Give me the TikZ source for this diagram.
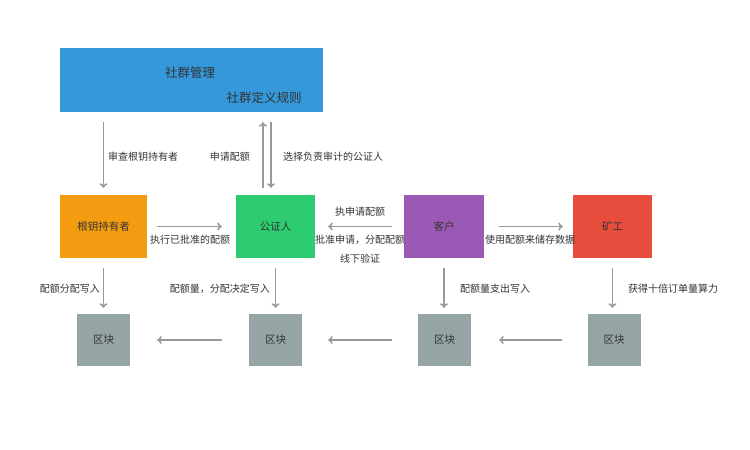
\documentclass[tikz,border=0pt]{standalone}
\usepackage{fontspec}
\setmainfont{Noto Sans CJK SC}
\usepackage{tikz}
\usetikzlibrary{positioning,arrows.meta}
\usepackage{xcolor}
\definecolor{CommunityBlue}{HTML}{3498DB}
\definecolor{KeyOrange}{HTML}{F39C12}
\definecolor{NotaryGreen}{HTML}{2ECC71}
\definecolor{ClientPurple}{HTML}{9B59B6}
\definecolor{MinerRed}{HTML}{E74C3C}
\definecolor{BlockGray}{HTML}{95A5A6}
\definecolor{FlowGray}{HTML}{999999}
\definecolor{DarkText}{HTML}{333333}

\begin{document}
\begin{tikzpicture}[
    x=1pt, y=-1pt,
    role/.style={rectangle, inner sep=0pt, minimum width=80pt, minimum height=63pt,
        font=\fontsize{10.5}{12}\selectfont, text=DarkText},
    blk/.style={rectangle, inner sep=0pt, fill=BlockGray, minimum width=53pt, minimum height=52pt,
        font=\fontsize{10.5}{12}\selectfont, text=DarkText},
    flow/.style={-{To[length=4.5pt,width=8pt]}, draw=FlowGray, line width=1.6pt},
    lbl/.style={font=\fontsize{10}{12}\selectfont, text=DarkText, inner sep=0pt},
    title/.style={font=\fontsize{12.5}{14}\selectfont, text=DarkText, inner sep=0pt}
]
\useasboundingbox (0,0) rectangle (750,450);
\node[rectangle, fill=CommunityBlue, minimum width=263pt, minimum height=64pt] (cm) at (191.5,80) {};
\node[title] (cmname) at (190,73) {社群管理};
\node[title] (cmrule) at (264,98) {社群定义规则};
\node[role, fill=KeyOrange, minimum width=87pt] (root) at (103.5,226.5) {根钥持有者};
\node[role, fill=NotaryGreen, minimum width=79pt] (notary) at (275.5,226.5) {公证人};
\node[role, fill=ClientPurple] (client) at (444,226.5) {客户};
\node[role, fill=MinerRed, minimum width=79pt] (miner) at (612.5,226.5) {矿工};
\node[blk] (b1) at (103.5,340) {区块};
\node[blk] (b2) at (275.5,340) {区块};
\node[blk] (b3) at (444.5,340) {区块};
\node[blk] (b4) at (614,340) {区块};
\draw[flow, shorten <=10pt, shorten >=7pt] (cm.south -| root.north) -- (root.north);
\draw[flow, shorten <=7pt, shorten >=10pt] ([xshift=-12.5pt]notary.north) -- ([xshift=-12.5pt]notary.north |- cm.south);
\draw[flow, shorten <=10pt, shorten >=7pt] ([xshift=-4.5pt]notary.north |- cm.south) -- ([xshift=-4.5pt]notary.north);
\draw[flow, shorten <=10pt, shorten >=14pt] (root) -- (notary);
\draw[flow, shorten <=12pt, shorten >=13pt] (client) -- (notary);
\draw[flow, shorten <=15pt, shorten >=10pt] (client) -- (miner);
\draw[flow, shorten <=10pt, shorten >=6pt] (root.south) -- (b1.north);
\draw[flow, shorten <=10pt, shorten >=6pt] (notary.south) -- (b2.north);
\draw[flow, shorten <=10pt, shorten >=6pt] (client.south) -- (client.south |- b3.north);
\draw[flow, shorten <=10pt, shorten >=6pt] (miner.south) -- (miner.south |- b4.north);
\draw[flow, shorten <=27pt, shorten >=27pt] (b2) -- (b1);
\draw[flow, shorten <=26pt, shorten >=26pt] (b3) -- (b2);
\draw[flow, shorten <=25pt, shorten >=28pt] (b4) -- (b3);
\node[lbl, anchor=west] (checkroot) at (108,157) {审查根钥持有者};
\node[lbl, anchor=east] (askquota) at (250,157) {申请配额};
\node[lbl, anchor=west] (picknotary) at (283,157) {选择负责审计的公证人};
\node[lbl] (runquota) at (190,240) {执行已批准的配额};
\node[lbl] (holdask) at (360,212) {执申请配额};
\node[lbl] (approve) at (360,240) {批准申请，分配配额};
\node[lbl] (offline) at (360,259) {线下验证};
\node[lbl] (usequota) at (530,240) {使用配额来储存数据};
\node[lbl, anchor=east] (writeroot) at (100,289) {配额分配写入};
\node[lbl, anchor=east] (writenotary) at (270,289) {配额量，分配决定写入};
\node[lbl, anchor=west] (writeclient) at (460,289) {配额量支出写入};
\node[lbl, anchor=west] (writeminer) at (628,289) {获得十倍订单量算力};
\end{tikzpicture}
\end{document}
